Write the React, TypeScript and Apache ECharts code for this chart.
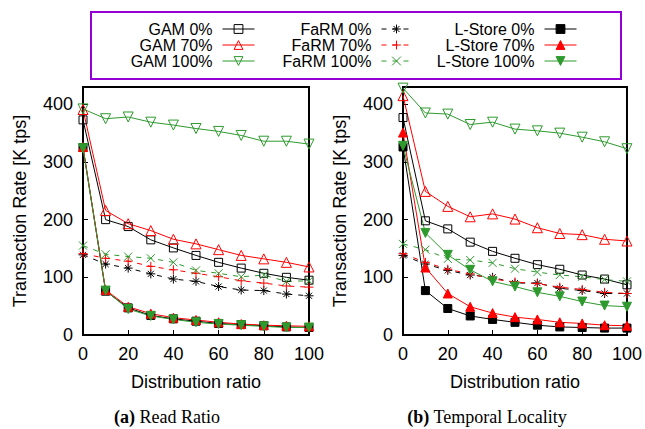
import React, { useEffect, useRef } from 'react';
import * as echarts from 'echarts';

// ---- data ----
const xs = [0, 10, 20, 30, 40, 50, 60, 70, 80, 90, 100];
const yTicks = [0, 100, 200, 300, 400];

// (a) Read Ratio
const gam0A = [373, 200, 188, 165, 151, 138, 126, 116, 107, 100, 95];
const gam70A = [391, 216, 193, 181, 166, 158, 148, 138, 132, 126, 118];
const gam100A = [392, 375, 378, 369, 364, 358, 353, 346, 336, 336, 331];
const farm0A = [139, 123, 116, 106, 97, 93, 84, 78, 77, 71, 68];
const farm70A = [141, 133, 128, 119, 113, 107, 101, 94, 90, 85, 83];
const farm100A = [155, 140, 136, 133, 126, 112, 107, 101, 104, 93, 94];
const ls0A = [325, 76, 47, 34, 28, 24, 20, 18, 16, 14, 13];
const ls70A = [326, 78, 49, 37, 30, 26, 22, 19, 17, 16, 15];
const ls100A = [324, 77, 45, 33, 27, 22, 19, 17, 15, 13, 13];

// (b) Temporal Locality
const gam0B = [377, 198, 184, 161, 145, 133, 122, 114, 104, 97, 87];
const gam70B = [415, 249, 223, 205, 210, 201, 186, 176, 174, 166, 163];
const gam100B = [428, 385, 383, 365, 369, 357, 354, 350, 343, 335, 323];
const farm0B = [138, 123, 112, 104, 100, 90, 90, 81, 77, 72, 72];
const farm70B = [141, 126, 114, 106, 97, 92, 89, 83, 79, 74, 72];
const farm100B = [158, 148, 132, 130, 125, 115, 109, 104, 101, 96, 93];
const ls0B = [326, 77, 46, 33, 27, 22, 17, 14, 13, 12, 12];
const ls70B = [351, 117, 72, 49, 38, 31, 27, 22, 20, 17, 16];
const ls100B = [328, 177, 139, 113, 93, 84, 74, 67, 58, 51, 49];

const seriesNames = [
  'GAM 0%', 'GAM 70%', 'GAM 100%',
  'FaRM 0%', 'FaRM 70%', 'FaRM 100%',
  'L-Store 0%', 'L-Store 70%', 'L-Store 100%',
];
const dataA = [gam0A, gam70A, gam100A, farm0A, farm70A, farm100A, ls0A, ls70A, ls100A];
const dataB = [gam0B, gam70B, gam100B, farm0B, farm70B, farm100B, ls0B, ls70B, ls100B];

const xName = 'Distribution ratio';
const yName = 'Transaction Rate [K tps]';
const captionA = '{b|(a)} Read Ratio';
const captionB = '{b|(b)} Temporal Locality';

// ---- styles ----
const BLACK = '#000000';
const RED = '#ff0000';
const GREEN = '#2e9a2e';
const PURPLE = '#9400d3';
const SANS = 'Liberation Sans, Arial, Helvetica, sans-serif';
const SERIF = 'Liberation Serif, Times New Roman, serif';

const SYM = {
  square: 'path://M0,0L10,0L10,10L0,10Z',
  triUp: 'path://M5,0L10,9L0,9Z',
  triDown: 'path://M0,0L10,0L5,9Z',
  star: 'path://M5,0L5,10M0,5L10,5M1.6,1.6L8.4,8.4M8.4,1.6L1.6,8.4',
  plus: 'path://M5,0L5,10M0,5L10,5',
  cross: 'path://M0,0L10,10M10,0L0,10',
};

const styles = [
  { color: BLACK, symbol: SYM.square, size: 8, filled: false, dashed: false },
  { color: RED, symbol: SYM.triUp, size: 10, filled: false, dashed: false },
  { color: GREEN, symbol: SYM.triDown, size: 10, filled: false, dashed: false },
  { color: BLACK, symbol: SYM.star, size: 9, filled: false, dashed: true },
  { color: RED, symbol: SYM.plus, size: 9, filled: false, dashed: true },
  { color: GREEN, symbol: SYM.cross, size: 8, filled: false, dashed: true },
  { color: BLACK, symbol: SYM.square, size: 8, filled: true, dashed: false },
  { color: RED, symbol: SYM.triUp, size: 9, filled: true, dashed: false },
  { color: GREEN, symbol: SYM.triDown, size: 9, filled: true, dashed: false },
];

const DASH = [5, 6];

function mkSeries(idx: number, values: number[], g: number) {
  const s = styles[idx];
  return {
    type: 'line',
    name: seriesNames[idx],
    xAxisIndex: g,
    yAxisIndex: g,
    data: xs.map((x, i) => [x, values[i]]),
    symbol: s.symbol,
    symbolSize: s.size,
    showAllSymbol: true,
    clip: false,
    lineStyle: { color: s.color, width: 1, type: s.dashed ? DASH : 'solid' },
    itemStyle: { color: s.filled ? s.color : 'none', borderColor: s.color, borderWidth: 1 },
    emphasis: { disabled: true },
  };
}

const legendCols = [
  { rightEdge: 255, w: 32 },
  { rightEdge: 412, w: 30 },
  { rightEdge: 577, w: 32 },
];
const legendRows = [28, 44, 60];

function mkAxes(g: number) {
  const txt = { fontSize: 18, color: BLACK, fontFamily: SANS };
  const x = {
    type: 'value',
    gridIndex: g,
    min: 0,
    max: 100,
    interval: 20,
    axisLine: { show: true, lineStyle: { color: BLACK, width: 2 } },
    axisTick: { show: true, inside: true, length: 5, lineStyle: { color: BLACK, width: 1 } },
    axisLabel: { ...txt, margin: 10 },
    splitLine: { show: false },
    name: xName,
    nameLocation: 'middle',
    nameGap: 38,
    nameTextStyle: txt,
  };
  const y = {
    type: 'value',
    gridIndex: g,
    min: 0,
    max: 430,
    interval: 100,
    axisLine: { show: true, lineStyle: { color: BLACK, width: 2 } },
    axisTick: { show: true, inside: true, length: 5, lineStyle: { color: BLACK, width: 1 } },
    axisLabel: {
      ...txt,
      margin: 10,
      showMaxLabel: false,
      formatter: (v: number) => (yTicks.indexOf(v) >= 0 ? String(v) : ''),
    },
    splitLine: { show: false },
    name: yName,
    nameLocation: 'middle',
    nameGap: 54,
    nameRotate: 90,
    nameTextStyle: txt,
  };
  return { x, y };
}

export default function App() {
  const ref = useRef<HTMLDivElement>(null);
  useEffect(() => {
    if (!ref.current) return;
    const chart = echarts.init(ref.current, undefined, { renderer: 'svg' });
    const a0 = mkAxes(0);
    const a1 = mkAxes(1);
    const legends = seriesNames.map((name, i) => {
      const col = legendCols[Math.floor(i / 3)];
      const rowY = legendRows[i % 3];
      const s = styles[i];
      return {
        data: [
          {
            name,
            itemStyle: { color: s.filled ? s.color : 'none', borderColor: s.color, borderWidth: 1 },
            lineStyle: { color: s.color, width: 1, type: s.dashed ? DASH : 'solid' },
          },
        ],
        right: 645 - col.rightEdge,
        top: rowY - 7,
        orient: 'horizontal',
        align: 'right',
        itemWidth: col.w,
        itemHeight: 11,
        padding: 0,
        selectedMode: false,
        textStyle: {
          fontSize: 16,
          fontFamily: SANS,
          color: BLACK,
          lineHeight: 14,
          padding: [0, 5, 0, 0],
        },
      };
    });
    const series: any[] = [];
    dataA.forEach((d, i) => series.push(mkSeries(i, d, 0)));
    dataB.forEach((d, i) => series.push(mkSeries(i, d, 1)));

    chart.setOption({
      animation: false,
      backgroundColor: '#ffffff',
      grid: [
        { left: 83, top: 87, width: 226, height: 248, show: true, borderColor: BLACK, borderWidth: 2, backgroundColor: 'transparent' },
        { left: 403, top: 87, width: 226, height: 248, show: true, borderColor: BLACK, borderWidth: 2, backgroundColor: 'transparent' },
      ],
      xAxis: [a0.x, a1.x],
      yAxis: [a0.y, a1.y],
      legend: legends,
      series,
      graphic: [
        {
          type: 'rect',
          shape: { x: 91, y: 12, width: 530, height: 67 },
          style: { fill: 'none', stroke: PURPLE, lineWidth: 2 },
          silent: true,
        },
        {
          type: 'text',
          x: 167,
          y: 417,
          style: {
            text: captionA,
            fontFamily: SERIF,
            fontSize: 18,
            fill: BLACK,
            textAlign: 'center',
            textVerticalAlign: 'middle',
            rich: { b: { fontWeight: 'bold', fontFamily: SERIF, fontSize: 18, fill: BLACK } },
          },
        },
        {
          type: 'text',
          x: 487,
          y: 417,
          style: {
            text: captionB,
            fontFamily: SERIF,
            fontSize: 18,
            fill: BLACK,
            textAlign: 'center',
            textVerticalAlign: 'middle',
            rich: { b: { fontWeight: 'bold', fontFamily: SERIF, fontSize: 18, fill: BLACK } },
          },
        },
      ],
    });
    return () => chart.dispose();
  }, []);
  return (
    <div
      ref={ref}
      style={{ position: 'fixed', left: 0, top: 0, width: 645, height: 429, background: '#fff' }}
    />
  );
}
